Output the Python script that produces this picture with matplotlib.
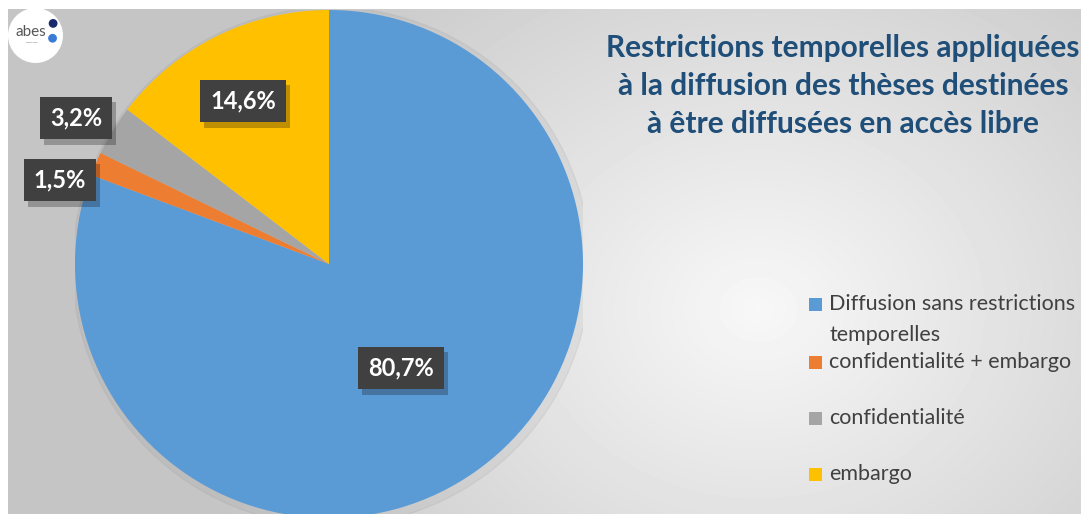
import numpy as np
import matplotlib.pyplot as plt
from matplotlib.patches import Rectangle, Circle
import matplotlib.patheffects as pe

# data
categories = ['Diffusion sans restrictions\ntemporelles', 'confidentialité + embargo',
              'confidentialité', 'embargo']
values = [80.7, 1.5, 3.2, 14.6]
value_labels = ['80,7%', '1,5%', '3,2%', '14,6%']
colors = ['#5b9bd5', '#ed7d31', '#a5a5a5', '#ffc000']
title = "Restrictions temporelles appliquées\nà la diffusion des thèses destinées\nà être diffusées en accès libre"

W, H = 1081, 514
fig = plt.figure(figsize=(W / 100, H / 100), dpi=100)
plt.rcParams['font.family'] = ['Lato', 'DejaVu Sans']

# background gradient panel
bg = fig.add_axes([8 / W, 0, 1 - 8 / W, 1 - 9 / H])
yy, xx = np.mgrid[0:505, 0:1073]
d = np.sqrt(((xx - 750) / 600.0) ** 2 + ((yy - 300) / 500.0) ** 2)
shade = np.clip(0.97 - 0.2 * d, 0.77, 0.97)
bg.imshow(shade, cmap='gray', vmin=0, vmax=1, aspect='auto', interpolation='bilinear')
bg.axis('off')

# pie
cx, cy, r = 329, 264, 254
ax = fig.add_axes([(cx - r) / W, (H - cy - r) / H, 2 * r / W, 2 * r / H])
ax.add_patch(Circle((0.01, -0.01), 1.02, color='#8a8a8a', alpha=0.12, zorder=0))
wedges, _ = ax.pie(values, colors=colors, startangle=90, counterclock=False,
                   radius=1, wedgeprops=dict(linewidth=0))
ax.set_xlim(-1, 1)
ax.set_ylim(-1, 1)
ax.set_aspect('equal')

# data labels (pixel positions of the box centres)
label_pos = [(401, 368), (60, 180), (76, 118), (243, 101)]
for (px, py), txt in zip(label_pos, value_labels):
    t = fig.text(px / W, 1 - py / H, txt, ha='center', va='center', fontsize=17,
                 fontweight='bold', color='white',
                 bbox=dict(boxstyle='square,pad=0.42', fc='#404040', ec='none'))
    t.get_bbox_patch().set_path_effects([
        pe.SimplePatchShadow(offset=(3, -4), shadow_rgbFace='black', alpha=0.25),
        pe.Normal()])

# title
fig.text(843 / W, 1 - 86 / H, title, ha='center', va='center', fontsize=21.5,
         fontweight='bold', color='#1f4e79', linespacing=1.42)

# legend
legend_y = [304, 362, 418, 474]
for c, lab, ly in zip(colors, categories, legend_y):
    fig.patches.append(Rectangle((809 / W, 1 - (ly + 7) / H), 13 / W, 13 / H,
                                 transform=fig.transFigure, fc=c, ec='none'))
    if '\n' in lab:
        fig.text(829 / W, 1 - (ly - 10) / H, lab, ha='left', va='top',
                 fontsize=15.5, color='#404040', linespacing=1.7)
    else:
        fig.text(829 / W, 1 - ly / H, lab, ha='left', va='center',
                 fontsize=15.5, color='#404040')

# logo
lg = fig.add_axes([8 / W, 1 - 63 / H, 55 / W, 55 / H])
lg.set_xlim(0, 1)
lg.set_ylim(0, 1)
lg.axis('off')
lg.add_patch(Circle((0.5, 0.5), 0.5, fc='white', ec='none'))
lg.text(0.42, 0.56, 'abes', ha='center', va='center', fontsize=11, color='#555555')
lg.text(0.42, 0.36, '━━━━━', ha='center', va='center', fontsize=3, color='#bbbbbb')
lg.add_patch(Circle((0.82, 0.72), 0.08, fc='#1a2a6c', ec='none'))
lg.add_patch(Circle((0.81, 0.45), 0.08, fc='#3a7bd5', ec='none'))

fig.savefig('out.png', dpi=100)
